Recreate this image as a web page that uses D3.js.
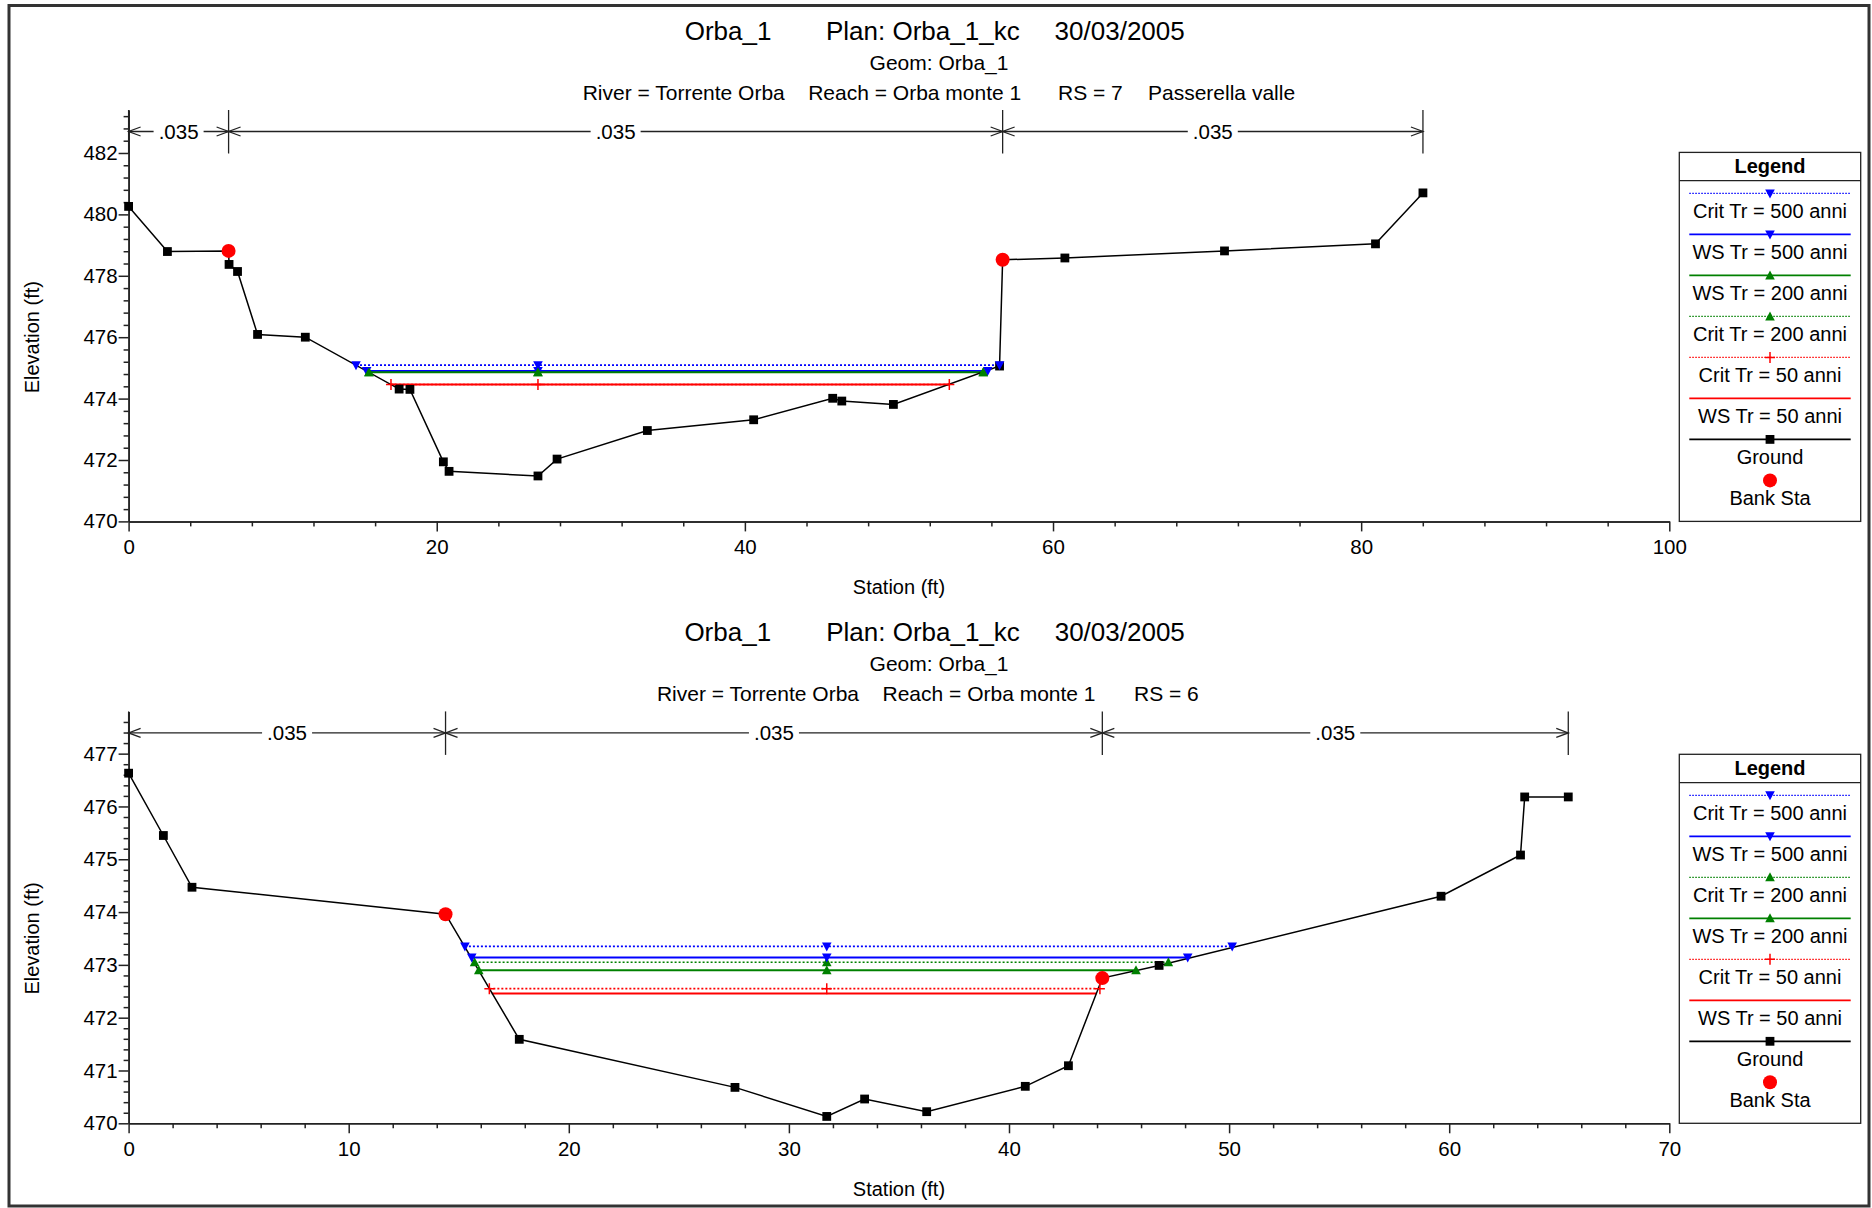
<!DOCTYPE html>
<html><head><meta charset="utf-8">
<script src="https://cdn.jsdelivr.net/npm/d3@7"></script>
<style>
html,body{margin:0;padding:0;background:#fff;}
svg{display:block;font-family:"Liberation Sans",Arial,Helvetica,sans-serif;}
</style></head><body>
<svg id="c" width="1872" height="1208"></svg>
<script>
// ================= DATA =================
// Titles
const title1Parts = ["Orba_1", "Plan: Orba_1_kc", "30/03/2005"];
const title2 = "Geom: Orba_1";
const title3Parts7 = ["River = Torrente Orba", "Reach = Orba monte 1", "RS = 7", "Passerella valle"];
const title3Parts6 = ["River = Torrente Orba", "Reach = Orba monte 1", "RS = 6"];

// Water surface profiles (same order in both charts)
const wsKeys   = ["crit500", "ws500", "crit200", "ws200", "crit50", "ws50"];
const wsLabels = ["Crit Tr = 500 anni", "WS Tr = 500 anni", "Crit Tr = 200 anni", "WS Tr = 200 anni", "Crit Tr = 50 anni", "WS Tr = 50 anni"];

// RS = 7  (Passerella valle)
const groundSta7  = [0, 2.52, 6.49, 6.52, 7.07, 8.37, 11.47, 17.56, 18.26, 20.43, 20.80, 26.57, 27.81, 33.67, 40.57, 45.70, 46.29, 49.64, 56.53, 56.73, 60.77, 71.13, 80.93, 84.01];
const groundElev7 = [480.26, 478.79, 478.81, 478.37, 478.14, 476.09, 476.00, 474.31, 474.30, 471.94, 471.63, 471.48, 472.03, 472.96, 473.31, 474.01, 473.92, 473.81, 475.06, 478.52, 478.58, 478.81, 479.04, 480.70];
const bankSta7  = [6.49, 56.73];
const bankElev7 = [478.81, 478.52];
const wsElev7  = [475.09, 474.90, 474.86, 474.86, 474.46, 474.46];
const wsLeft7  = [14.76, 15.45, 15.60, 15.60, 17.03, 17.03];
const wsRight7 = [56.53, 55.76, 55.47, 55.47, 53.27, 53.27];
const nSta7 = [0, 6.49, 56.73, 84.01];
const nVal7 = [".035", ".035", ".035"];
const legendOrder7 = ["crit500", "ws500", "ws200", "crit200", "crit50", "ws50", "ground", "bank"];
const xTicks7 = [0, 20, 40, 60, 80, 100];
const yTicks7 = [470, 472, 474, 476, 478, 480, 482];

// RS = 6
const groundSta6  = [0, 1.58, 2.88, 14.40, 17.75, 27.55, 31.72, 33.44, 36.26, 40.74, 42.70, 44.24, 46.82, 59.63, 63.24, 63.43, 65.41];
const groundElev6 = [476.63, 475.45, 474.47, 473.96, 471.59, 470.68, 470.13, 470.46, 470.22, 470.70, 471.09, 472.75, 472.99, 474.30, 475.08, 476.18, 476.18];
const bankSta6  = [14.40, 44.24];
const bankElev6 = [473.96, 472.75];
const wsElev6  = [473.35, 473.14, 473.05, 472.90, 472.55, 472.46];
const wsLeft6  = [15.28, 15.59, 15.72, 15.91, 16.39, 16.50];
const wsRight6 = [50.14, 48.12, 47.24, 45.77, 44.13, 43.98];
const nSta6 = [0, 14.40, 44.24, 65.41];
const nVal6 = [".035", ".035", ".035"];
const legendOrder6 = ["crit500", "ws500", "crit200", "ws200", "crit50", "ws50", "ground", "bank"];
const xTicks6 = [0, 10, 20, 30, 40, 50, 60, 70];
const yTicks6 = [470, 471, 472, 473, 474, 475, 476, 477];

// ================= STYLE =================
const styles = {
  crit500: {color: "#0000ff", dotted: true,  marker: "down"},
  ws500:   {color: "#0000ff", dotted: false, marker: "down"},
  crit200: {color: "#008000", dotted: true,  marker: "up"},
  ws200:   {color: "#008000", dotted: false, marker: "up"},
  crit50:  {color: "#ff0000", dotted: true,  marker: "plus"},
  ws50:    {color: "#ff0000", dotted: false, marker: null},
  ground:  {color: "#000000", dotted: false, marker: "square"},
  bank:    {color: "#ff0000", dotted: false, marker: "circle", noLine: true}
};
const labelOf = {ground: "Ground", bank: "Bank Sta"};
wsKeys.forEach((k, i) => labelOf[k] = wsLabels[i]);

const svg = d3.select("#c");
const FONT = "\"Liberation Sans\",Arial,Helvetica,sans-serif";
const PL = 128.6, PR = 1669.3;

svg.append("rect").attr("x", 9).attr("y", 5.5).attr("width", 1860).attr("height", 1200.5)
  .attr("fill", "none").attr("stroke", "#333").attr("stroke-width", 3);

function symbol(g, type, cx, cy, color) {
  if (type === "down") {
    g.append("path").attr("d", `M${cx-4.8},${cy-4}L${cx+4.8},${cy-4}L${cx},${cy+5}Z`).attr("fill", color);
  } else if (type === "up") {
    g.append("path").attr("d", `M${cx-4.8},${cy+4}L${cx+4.8},${cy+4}L${cx},${cy-5}Z`).attr("fill", color);
  } else if (type === "plus") {
    g.append("path").attr("d", `M${cx-5},${cy}L${cx+5},${cy}M${cx},${cy-5.5}L${cx},${cy+5.5}`)
      .attr("stroke", color).attr("stroke-width", 1.5).attr("fill", "none");
  } else if (type === "square") {
    g.append("rect").attr("x", cx-4.4).attr("y", cy-4.4).attr("width", 8.8).attr("height", 8.8).attr("fill", color);
  } else if (type === "circle") {
    g.append("circle").attr("cx", cx).attr("cy", cy).attr("r", 7).attr("fill", color);
  }
}

function drawChart(cfg) {
  const g = svg.append("g");
  const x = d3.scaleLinear().domain(cfg.xDomain).range([PL, PR]);
  const y = d3.scaleLinear().domain(cfg.yDomain).range([cfg.yBottom, cfg.yTop]);

  // titles
  const t1 = g.append("text").attr("y", cfg.yTop - 70.5).attr("font-size", 26).attr("fill", "#000");
  cfg.t1x.forEach((xx, i) => t1.append("tspan").attr("x", xx).text(title1Parts[i]));
  g.append("text").attr("x", 939).attr("y", cfg.yTop - 40.5).attr("font-size", 21)
    .attr("text-anchor", "middle").text(title2);
  const t3 = g.append("text").attr("y", cfg.yTop - 10).attr("font-size", 21);
  cfg.t3x.forEach((xx, i) => t3.append("tspan").attr("x", xx).text(cfg.t3Parts[i]));

  // axes
  const ax = g.append("g").attr("transform", `translate(0,${cfg.yBottom})`)
    .call(d3.axisBottom(x).tickValues(cfg.xTicks).tickSize(10).tickSizeOuter(0).tickPadding(8).tickFormat(d3.format("d")));
  const axm = g.append("g").attr("transform", `translate(0,${cfg.yBottom})`)
    .call(d3.axisBottom(x).tickValues(cfg.xMinor).tickSize(5).tickSizeOuter(0).tickFormat(""));
  const ay = g.append("g").attr("transform", `translate(${PL},0)`)
    .call(d3.axisLeft(y).tickValues(cfg.yTicks).tickSize(10).tickSizeOuter(0).tickPadding(1).tickFormat(d3.format("d")));
  const aym = g.append("g").attr("transform", `translate(${PL},0)`)
    .call(d3.axisLeft(y).tickValues(cfg.yMinor).tickSize(5).tickSizeOuter(0).tickFormat(""));
  [ax, axm, ay, aym].forEach(a => {
    a.selectAll("path,line").attr("stroke", "#222").attr("stroke-width", 1.5);
    a.selectAll("text").attr("font-size", 20.5).attr("font-family", FONT).attr("fill", "#000");
  });

  // axis titles
  g.append("text").attr("x", (PL + PR) / 2).attr("y", cfg.yBottom + 73).attr("text-anchor", "middle")
    .attr("font-size", 20).text("Station (ft)");
  const ec = y((cfg.yTicks[0] + cfg.yTicks[cfg.yTicks.length - 1]) / 2);
  g.append("text").attr("transform", `translate(39,${ec}) rotate(-90)`).attr("text-anchor", "middle")
    .attr("font-size", 20).text("Elevation (ft)");

  // Manning's n brackets
  const ny = cfg.yTop + 21.5;
  const nb = g.append("g").attr("stroke", "#222").attr("stroke-width", 1.3).attr("fill", "none");
  cfg.nSta.forEach(s => nb.append("line").attr("x1", x(s)).attr("x2", x(s)).attr("y1", cfg.yTop).attr("y2", cfg.yTop + 43.5));
  nb.append("line").attr("x1", x(cfg.nSta[0])).attr("x2", x(cfg.nSta[cfg.nSta.length - 1])).attr("y1", ny).attr("y2", ny);
  for (let i = 0; i < cfg.nVal.length; i++) {
    const a = x(cfg.nSta[i]), b = x(cfg.nSta[i + 1]);
    nb.append("path").attr("d", `M${a+12},${ny-4.5}L${a},${ny}L${a+12},${ny+4.5}`);
    nb.append("path").attr("d", `M${b-12},${ny-4.5}L${b},${ny}L${b-12},${ny+4.5}`);
    const m = (a + b) / 2;
    g.append("rect").attr("x", m - 25).attr("y", ny - 10).attr("width", 50).attr("height", 20).attr("fill", "#fff");
    g.append("text").attr("x", m).attr("y", ny + 7).attr("text-anchor", "middle").attr("font-size", 20.5).text(cfg.nVal[i]);
  }

  // water surfaces: lines (crit first, then WS)
  const order = [0, 2, 4, 1, 3, 5];
  const thalweg = cfg.gSta[d3.minIndex(cfg.gElev)];
  order.forEach(i => {
    const st = styles[wsKeys[i]];
    const ln = g.append("line").attr("x1", x(cfg.wsLeft[i])).attr("x2", x(cfg.wsRight[i]))
      .attr("y1", y(cfg.wsElev[i])).attr("y2", y(cfg.wsElev[i]))
      .attr("stroke", st.color).attr("stroke-width", st.dotted ? 1.6 : 2);
    if (st.dotted) ln.attr("stroke-dasharray", "2,2");
  });

  // ground line
  const pts = cfg.gSta.map((s, i) => [s, cfg.gElev[i]]);
  g.append("path").datum(pts).attr("fill", "none").attr("stroke", "#000").attr("stroke-width", 1.5)
    .attr("d", d3.line().x(d => x(d[0])).y(d => y(d[1])));
  pts.forEach(d => symbol(g, "square", x(d[0]), y(d[1]), "#000"));

  // ws markers
  order.forEach(i => {
    const st = styles[wsKeys[i]];
    if (!st.marker) return;
    [cfg.wsLeft[i], thalweg, cfg.wsRight[i]].forEach(s => symbol(g, st.marker, x(s), y(cfg.wsElev[i]), st.color));
  });

  // banks
  cfg.bSta.forEach((s, i) => symbol(g, "circle", x(s), y(cfg.bElev[i]), "#ff0000"));

  // legend
  const lx0 = 1679.3, lx1 = 1860.7, lTop = cfg.yBottom - 369, lc = (lx0 + lx1) / 2;
  const lg = g.append("g");
  lg.append("rect").attr("x", lx0).attr("y", lTop).attr("width", lx1 - lx0).attr("height", 369)
    .attr("fill", "#fff").attr("stroke", "#222").attr("stroke-width", 1.3);
  lg.append("line").attr("x1", lx0).attr("x2", lx1).attr("y1", lTop + 28.3).attr("y2", lTop + 28.3)
    .attr("stroke", "#222").attr("stroke-width", 1.3);
  lg.append("text").attr("x", lc).attr("y", lTop + 21).attr("text-anchor", "middle")
    .attr("font-size", 20).attr("font-weight", "bold").text("Legend");
  cfg.legendOrder.forEach((k, i) => {
    const st = styles[k];
    const ly = lTop + 41 + i * 41;
    if (!st.noLine) {
      const l = lg.append("line").attr("x1", 1689.3).attr("x2", 1850.7).attr("y1", ly).attr("y2", ly)
        .attr("stroke", st.color).attr("stroke-width", st.dotted ? 1.2 : 1.8);
      if (st.dotted) l.attr("stroke-dasharray", "1.5,1.5");
    }
    if (st.marker) symbol(lg, st.marker, lc, ly, st.color);
    lg.append("text").attr("x", lc).attr("y", ly + 25).attr("text-anchor", "middle")
      .attr("font-size", 20).text(labelOf[k]);
  });
}

drawChart({
  xDomain: [0, 100], yDomain: [470, 483.4], yTop: 110, yBottom: 521.4,
  xTicks: xTicks7, xMinor: d3.range(0, 101, 4).filter(v => v % 20 !== 0),
  yTicks: yTicks7, yMinor: d3.range(0, 34).map(i => 470 + i * 0.4).filter(v => Math.abs(v / 2 - Math.round(v / 2)) > 1e-6),
  t1x: [684.7, 826, 1054.6], t3x: [582.7, 808.2, 1058, 1148], t3Parts: title3Parts7,
  gSta: groundSta7, gElev: groundElev7, bSta: bankSta7, bElev: bankElev7,
  wsElev: wsElev7, wsLeft: wsLeft7, wsRight: wsRight7,
  nSta: nSta7, nVal: nVal7, legendOrder: legendOrder7
});
drawChart({
  xDomain: [0, 70], yDomain: [470, 477.8], yTop: 711.4, yBottom: 1123.3,
  xTicks: xTicks6, xMinor: d3.range(0, 71, 2).filter(v => v % 10 !== 0),
  yTicks: yTicks6, yMinor: d3.range(0, 39).map(i => 470 + i * 0.2).filter(v => Math.abs(v - Math.round(v)) > 1e-6),
  t1x: [684.4, 826.2, 1054.7], t3x: [656.9, 882.5, 1134], t3Parts: title3Parts6,
  gSta: groundSta6, gElev: groundElev6, bSta: bankSta6, bElev: bankElev6,
  wsElev: wsElev6, wsLeft: wsLeft6, wsRight: wsRight6,
  nSta: nSta6, nVal: nVal6, legendOrder: legendOrder6
});
</script>
</body></html>
